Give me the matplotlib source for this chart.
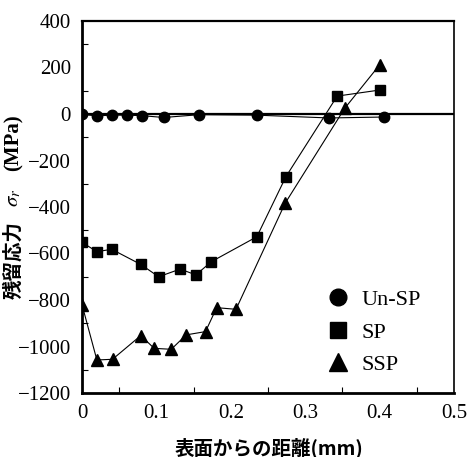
import matplotlib
matplotlib.use("Agg")
import matplotlib.pyplot as plt
from matplotlib.ticker import MultipleLocator

# Residual stress profiles versus depth from surface
unsp_x = [0.0, 0.02, 0.04, 0.06, 0.08, 0.11, 0.157, 0.235, 0.332, 0.406]
unsp_y = [-2, -8, -5, -5, -7, -15, -3, -5, -17, -13]

sp_x = [0.0, 0.02, 0.04, 0.079, 0.103, 0.132, 0.153, 0.174, 0.235, 0.274, 0.343, 0.400]
sp_y = [-552, -592, -582, -647, -700, -667, -692, -635, -528, -270, 77, 103]

ssp_x = [0.0, 0.02, 0.041, 0.079, 0.097, 0.12, 0.14, 0.166, 0.181, 0.207, 0.273, 0.353, 0.40]
ssp_y = [-820, -1058, -1055, -953, -1008, -1012, -950, -936, -833, -840, -384, 24, 211]

x_ticks = [0, 0.1, 0.2, 0.3, 0.4, 0.5]
x_ticklabels = ["0", "0.1", "0.2", "0.3", "0.4", "0.5"]
y_ticks = [400, 200, 0, -200, -400, -600, -800, -1000, -1200]

serif = "Liberation Serif"
cjk = "Noto Sans CJK JP"

fig = plt.figure(figsize=(4.69, 4.57), dpi=100)
ax = fig.add_axes([82 / 469, 1 - 393 / 457, (454 - 82) / 469, (393 - 21) / 457])

ax.axhline(0, color="black", lw=1.6, zorder=1)
ax.plot(unsp_x, unsp_y, color="black", lw=0.8, marker="o", ms=7.5, label="Un-SP", zorder=3)
ax.plot(sp_x, sp_y, color="black", lw=0.8, marker="s", ms=6.5, label="SP", zorder=3)
ax.plot(ssp_x, ssp_y, color="black", lw=0.8, marker="^", ms=8, label="SSP", zorder=3)

ax.set_xlim(0, 0.5)
ax.set_ylim(-1200, 400)
ax.set_xticks(x_ticks)
ax.set_xticklabels(x_ticklabels)
ax.set_yticks(y_ticks)
ax.xaxis.set_minor_locator(MultipleLocator(0.05))
ax.yaxis.set_minor_locator(MultipleLocator(100))
ax.tick_params(which="both", direction="in", top=False, right=False,
               labelsize=15, width=0.8)
ax.tick_params(which="major", length=0, pad=8)
ax.tick_params(which="minor", length=4)
for lab in ax.get_xticklabels() + ax.get_yticklabels():
    lab.set_fontfamily(serif)
ax.spines["left"].set_linewidth(2.0)
ax.spines["bottom"].set_linewidth(2.0)
ax.spines["top"].set_linewidth(1.6)
ax.spines["right"].set_linewidth(1.2)

leg = ax.legend(loc="lower right", bbox_to_anchor=(0.965, -0.005), frameon=False,
                prop={"family": serif, "size": 16}, handlelength=1.2,
                handletextpad=0.45, labelspacing=0.53, numpoints=1)
for h, ms in zip(leg.legend_handles, [12, 11, 12.5]):
    h.set_linestyle("none")
    h.set_markersize(ms)

# Axis titles
fig.text(268.5 / 469, 1 - 448 / 457, "表面からの距離(mm)", family=[cjk, "DejaVu Sans"],
         weight="bold", size=14, ha="center", va="center")
fig.text(14 / 469, 1 - 260 / 457, "残留応力", family=[cjk, "DejaVu Sans"],
         weight="bold", size=14, rotation=90, ha="center", va="center")
fig.text(14 / 469, 1 - 198 / 457, r"$\sigma_r$", family=serif, size=15,
         rotation=90, ha="center", va="center", math_fontfamily="stix")
fig.text(14 / 469, 1 - 143 / 457, "(MPa)", family=serif, weight="bold", size=15,
         rotation=90, ha="center", va="center")

fig.savefig("out.png", dpi=100)
